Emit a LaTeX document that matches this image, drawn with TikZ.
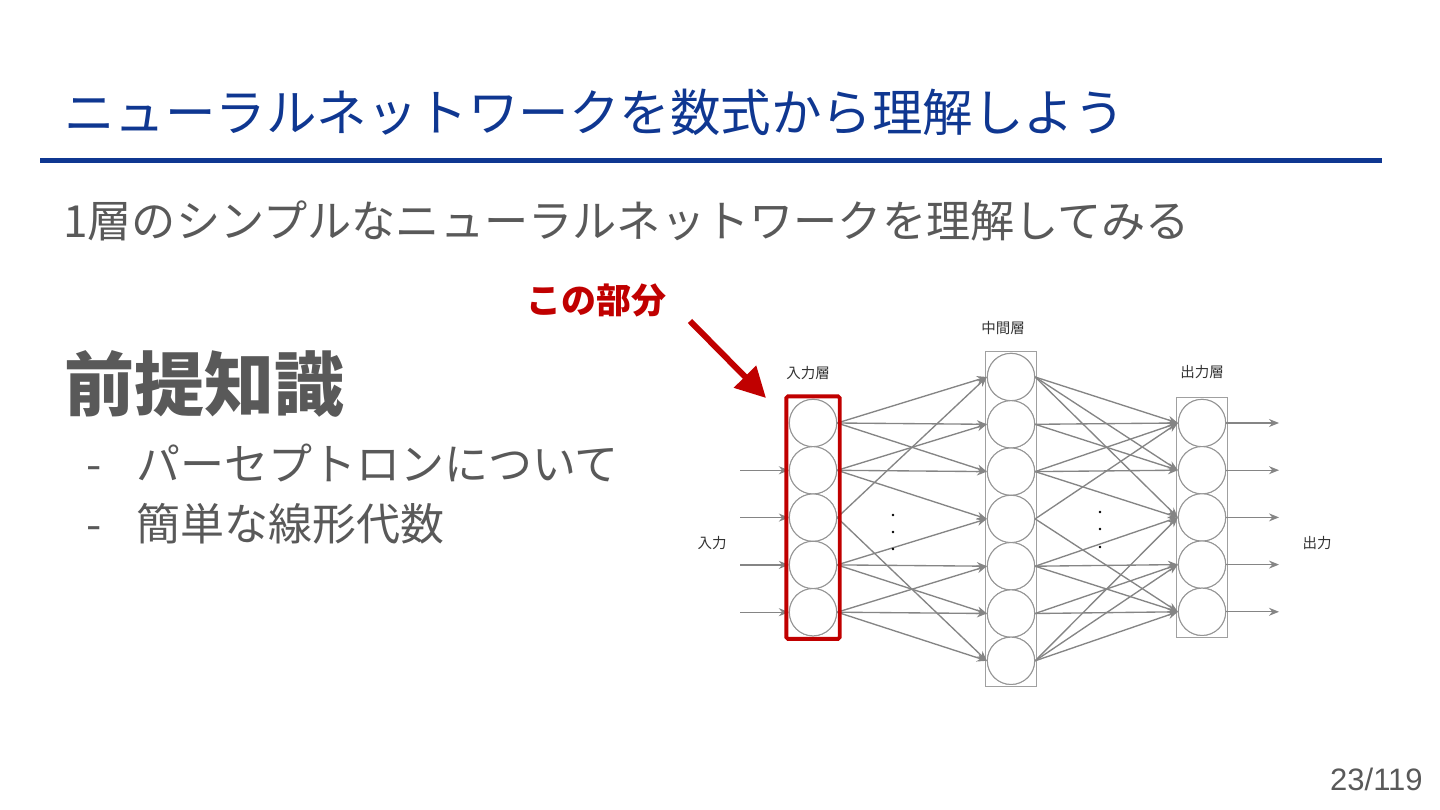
\documentclass[tikz,border=0pt]{standalone}
\usepackage{fontspec}
\newfontfamily\jp{Noto Sans CJK JP}
\newfontfamily\lib{Liberation Sans}
\usetikzlibrary{arrows.meta,fit}
\definecolor{titleblue}{HTML}{0F3791}
\definecolor{txtgray}{HTML}{595959}
\definecolor{accred}{HTML}{C00000}
\definecolor{netline}{HTML}{858585}
\definecolor{netcirc}{HTML}{959595}
\definecolor{netbox}{HTML}{A0A0A0}
\definecolor{netlabel}{HTML}{333333}
\begin{document}
\begin{tikzpicture}[x=1pt,y=-1pt,
  neuron/.style={circle, draw=netcirc, line width=1pt, fill=white, minimum size=47.3pt, inner sep=0pt},
  layerbox/.style={draw=netbox, line width=1.3pt, inner sep=1.5pt},
  conn/.style={draw=netline, line width=1.35pt, -{Stealth[length=10pt,width=8pt]}},
  netlbl/.style={font=\jp\fontsize{14.5}{14.5}\selectfont, text=netlabel, inner sep=0pt},
  bodytxt/.style={anchor=base west, inner sep=0pt, text=txtgray, font=\jp\fontsize{44}{44}\selectfont},
  dotmark/.style={fill=black}
]
\useasboundingbox (0,0) rectangle (1440,810);

% ---- text ----
\node[anchor=base west, inner sep=0pt, text=titleblue, font=\jp\fontsize{50.5}{50.5}\selectfont] (title) at (64,132) {ニューラルネットワークを数式から理解しよう};
\coordinate (ruleL) at (40,160.5);
\coordinate (ruleR) at (1382,160.5);
\draw[titleblue, line width=5pt] (ruleL) -- (ruleR);

\node[bodytxt, font=\jp\fontsize{44.2}{44.2}\selectfont] (sub) at (63,238) {1層のシンプルなニューラルネットワークを理解してみる};
\node[anchor=base west, inner sep=0pt, text=txtgray, font=\jp\bfseries\fontsize{70}{70}\selectfont] (pre) at (64,410) {前提知識};
\node[bodytxt] (d1) at (86,480) {-};
\node[bodytxt] (b1) at (136,480) {パーセプトロンについて};
\node[bodytxt] (d2) at (86,540) {-};
\node[bodytxt] (b2) at (136,540) {簡単な線形代数};
\node[anchor=base west, inner sep=0pt, text=accred, font=\jp\bfseries\fontsize{35}{35}\selectfont] (part) at (526,313) {この部分};
\node[anchor=base west, inner sep=0pt, text=txtgray, font=\lib\fontsize{31}{31}\selectfont] (page) at (1330,790) {23/119};

% ---- network ----
\foreach \k in {1,...,5} \node[neuron] (i\k) at (813,{423+47.3*(\k-1)}) {};
\foreach \k in {1,...,7} \node[neuron] (m\k) at (1011,{377+47.3*(\k-1)}) {};
\foreach \k in {1,...,5} \node[neuron] (o\k) at (1202,{423+47.2*(\k-1)}) {};

\node[layerbox, inner sep=2.5pt, fit=(i1)(i5)] (ibox) {};
\node[layerbox, fit=(m1)(m7)] (mbox) {};
\node[layerbox, fit=(o1)(o5)] (obox) {};

% input arrows
\foreach \k in {2,...,5} {
  \coordinate (in\k) at (740,{423+47.3*(\k-1)});
  \draw[conn] (in\k) -- (i\k.west);
}
% output arrows
\foreach \k in {1,...,5} {
  \coordinate (out\k) at (1279,{423+47.2*(\k-1)});
  \draw[conn] (o\k.east) -- (out\k);
}
% input -> middle
\foreach \a/\b in {1/1,1/2,1/3,2/2,2/3,2/4,3/1,3/7,4/4,4/5,4/6,5/5,5/6,5/7}
  \draw[conn] (i\a.east) -- (m\b.west);
% middle -> output
\foreach \a/\b in {1/1,1/2,1/3,2/1,2/2,3/1,3/2,3/3,4/1,4/5,5/3,5/4,5/5,6/4,6/5,7/3,7/4,7/5}
  \draw[conn] (m\a.east) -- (o\b.west);

% redraw neurons on top
\foreach \k in {1,...,5} \node[neuron] at (i\k) {};
\foreach \k in {1,...,7} \node[neuron] at (m\k) {};
\foreach \k in {1,...,5} \node[neuron] at (o\k) {};

% dots
\fill[dotmark] (893,515) circle (1.4pt);
\fill[dotmark] (893,532) circle (1.4pt);
\fill[dotmark] (893,549) circle (1.4pt);
\fill[dotmark] (1100,512) circle (1.4pt);
\fill[dotmark] (1100,529) circle (1.4pt);
\fill[dotmark] (1100,547) circle (1.4pt);

% labels
\node[netlbl] (lin) at (808,373) {入力層};
\node[netlbl] (lmid) at (1003,328) {中間層};
\node[netlbl] (lout) at (1202,372) {出力層};
\node[netlbl] (xin) at (712,543) {入力};
\node[netlbl] (xout) at (1317,543) {出力};

% highlight
\node[draw=accred, line width=3.8pt, rounded corners=1.5pt, inner sep=2.5pt, fit=(i1)(i5)] (hl) {};
\coordinate (arrS) at (690,321);
\coordinate (arrE) at (766,398);
\draw[accred, line width=6pt, -{Triangle[length=30pt,width=30pt]}] (arrS) -- (arrE);
\end{tikzpicture}
\end{document}
